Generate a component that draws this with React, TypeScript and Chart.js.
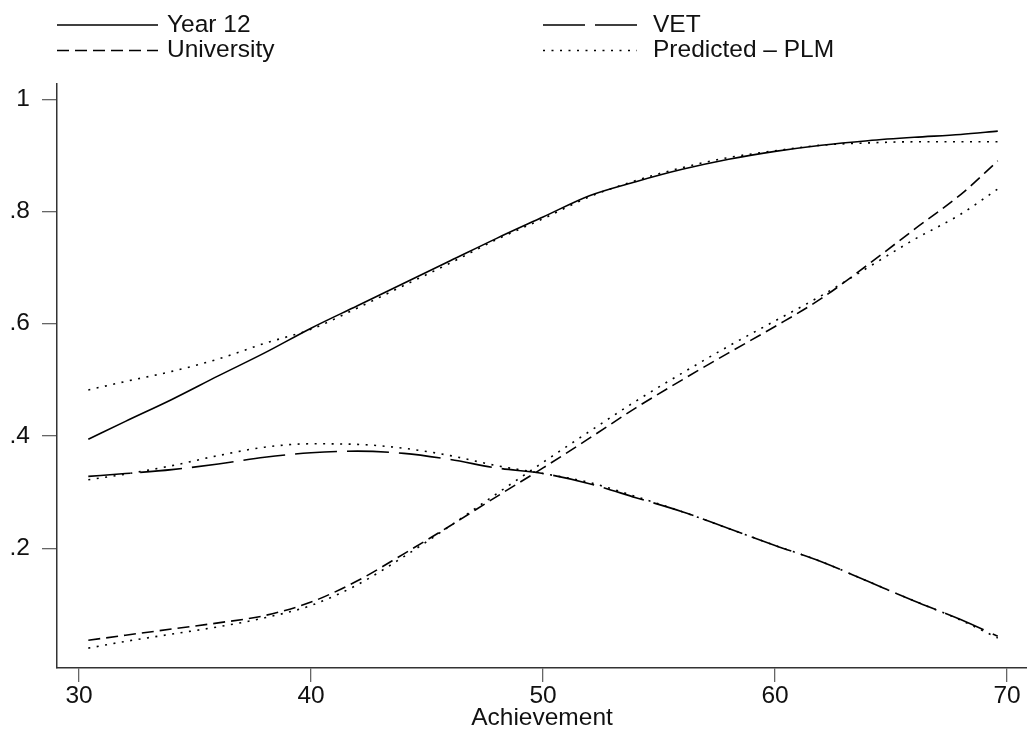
import { useEffect, useRef } from "react";
import { Chart, registerables } from "chart.js";

Chart.register(...registerables);

// Achievement score (x) shared by all series
const ACHIEVEMENT = [30.4, 32, 34, 36, 38, 40, 42, 44, 46, 48, 50, 52, 54, 56, 58, 60, 62, 64, 66, 68, 69.6];

const YEAR12 = [0.394, 0.426, 0.465, 0.507, 0.548, 0.592, 0.632, 0.672, 0.712, 0.752, 0.79, 0.828, 0.853, 0.875, 0.893, 0.907, 0.918, 0.926, 0.932, 0.937, 0.943];
const YEAR12_PRED = [0.482, 0.497, 0.515, 0.537, 0.565, 0.59, 0.628, 0.668, 0.708, 0.75, 0.787, 0.826, 0.855, 0.878, 0.896, 0.908, 0.918, 0.922, 0.924, 0.924, 0.924];

const VET = [0.328, 0.333, 0.34, 0.35, 0.362, 0.37, 0.373, 0.369, 0.358, 0.343, 0.333, 0.315, 0.29, 0.265, 0.235, 0.205, 0.176, 0.141, 0.106, 0.073, 0.043];
const VET_PRED = [0.322, 0.332, 0.347, 0.365, 0.38, 0.386, 0.385, 0.378, 0.365, 0.347, 0.333, 0.317, 0.292, 0.265, 0.235, 0.205, 0.176, 0.141, 0.106, 0.072, 0.04];

const UNIVERSITY = [0.036, 0.045, 0.056, 0.067, 0.08, 0.104, 0.142, 0.19, 0.24, 0.292, 0.343, 0.396, 0.45, 0.5, 0.548, 0.595, 0.645, 0.705, 0.768, 0.83, 0.89];
const UNIVERSITY_PRED = [0.022, 0.034, 0.047, 0.06, 0.076, 0.098, 0.135, 0.185, 0.24, 0.297, 0.353, 0.408, 0.462, 0.512, 0.56, 0.605, 0.65, 0.7, 0.75, 0.795, 0.84];

const X_TICKS = [30, 40, 50, 60, 70];
const Y_TICKS = [0.2, 0.4, 0.6, 0.8, 1];
const Y_TICK_LABELS = [".2", ".4", ".6", ".8", "1"];
const X_TITLE = "Achievement";

const LEGEND_LABELS = ["Year 12", "VET", "University", "Predicted \u2013 PLM"];

const FONT = "'Liberation Sans', Arial, Helvetica, sans-serif";
const FONT_SIZE = 24.5;

const DASH_SOLID: number[] = [];
const DASH_LONG = [42, 10];
const DASH_SHORT = [12, 6];
const DASH_DOT = [2, 6.5];

const toPoints = (ys: number[]) => ACHIEVEMENT.map((x, i) => ({ x, y: ys[i] }));

const legendPlugin = {
  id: "stataLegend",
  afterDraw(chart: any) {
    const ctx = chart.ctx as CanvasRenderingContext2D;
    const items = [
      { label: LEGEND_LABELS[0], dash: DASH_SOLID, col: 0, row: 0 },
      { label: LEGEND_LABELS[1], dash: DASH_LONG, col: 1, row: 0 },
      { label: LEGEND_LABELS[2], dash: DASH_SHORT, col: 0, row: 1 },
      { label: LEGEND_LABELS[3], dash: DASH_DOT, col: 1, row: 1 },
    ];
    const lineStart = [57, 543];
    const lineEnd = [158, 637];
    const textX = [167, 653];
    const lineY = [25, 50.5];
    const baseY = [32, 56.5];
    ctx.save();
    ctx.font = `${FONT_SIZE}px ${FONT}`;
    ctx.textBaseline = "alphabetic";
    ctx.textAlign = "left";
    for (const it of items) {
      ctx.strokeStyle = "#000";
      ctx.lineWidth = 1.6;
      ctx.setLineDash(it.dash);
      ctx.beginPath();
      ctx.moveTo(lineStart[it.col], lineY[it.row]);
      ctx.lineTo(lineEnd[it.col], lineY[it.row]);
      ctx.stroke();
      ctx.setLineDash([]);
      ctx.fillStyle = "#111";
      ctx.fillText(it.label, textX[it.col], baseY[it.row]);
    }
    ctx.restore();
  },
};

export default function App() {
  const canvasRef = useRef<HTMLCanvasElement | null>(null);

  useEffect(() => {
    const canvas = canvasRef.current;
    if (!canvas) return;
    const lineDs = (label: string, ys: number[], dash: number[]) => ({
      label,
      data: toPoints(ys),
      borderColor: "#000",
      backgroundColor: "#000",
      borderWidth: 1.6,
      borderDash: dash,
      pointRadius: 0,
      fill: false,
      cubicInterpolationMode: "monotone" as const,
    });
    const chart = new Chart(canvas, {
      type: "line",
      data: {
        datasets: [
          lineDs(LEGEND_LABELS[0], YEAR12, DASH_SOLID),
          lineDs(LEGEND_LABELS[1], VET, DASH_LONG),
          lineDs(LEGEND_LABELS[2], UNIVERSITY, DASH_SHORT),
          lineDs(LEGEND_LABELS[3], YEAR12_PRED, DASH_DOT),
          lineDs(LEGEND_LABELS[3], VET_PRED, DASH_DOT),
          lineDs(LEGEND_LABELS[3], UNIVERSITY_PRED, DASH_DOT),
        ],
      },
      options: {
        animation: false,
        responsive: false,
        devicePixelRatio: 1,
        layout: { padding: { top: 84, right: 0, left: 0, bottom: 0 } },
        plugins: {
          legend: { display: false },
          tooltip: { enabled: false },
        },
        scales: {
          x: {
            type: "linear",
            min: 29.05,
            max: 70.86,
            afterBuildTicks: (s: any) => {
              s.ticks = X_TICKS.map((v) => ({ value: v }));
            },
            afterFit: (s: any) => {
              s.height = 67;
            },
            grid: {
              drawOnChartArea: false,
              drawTicks: true,
              tickLength: 14,
              color: "#666",
              lineWidth: 1.3,
            },
            border: { display: true, color: "#333", width: 1.5 },
            ticks: {
              font: { family: FONT, size: FONT_SIZE },
              color: "#111",
              padding: 0,
              maxRotation: 0,
              autoSkip: false,
              callback: (v: any) => String(v),
            },
            title: {
              display: true,
              text: X_TITLE,
              color: "#111",
              font: { family: FONT, size: FONT_SIZE, lineHeight: 1.2 },
              padding: { top: 0, bottom: 2 },
            },
          },
          y: {
            type: "linear",
            min: -0.0134,
            max: 1.027,
            afterBuildTicks: (s: any) => {
              s.ticks = Y_TICKS.map((v) => ({ value: v }));
            },
            afterFit: (s: any) => {
              s.width = 57;
            },
            grid: {
              drawOnChartArea: false,
              drawTicks: true,
              tickLength: 15,
              color: "#666",
              lineWidth: 1.3,
            },
            border: { display: true, color: "#333", width: 1.5 },
            ticks: {
              font: { family: FONT, size: FONT_SIZE },
              color: "#111",
              padding: 12,
              autoSkip: false,
              callback: (v: any) => {
                const i = Y_TICKS.findIndex((t) => Math.abs(t - Number(v)) < 1e-6);
                return i >= 0 ? Y_TICK_LABELS[i] : "";
              },
            },
          },
        },
      },
      plugins: [legendPlugin],
    });
    return () => chart.destroy();
  }, []);

  return (
    <div style={{ position: "absolute", left: 0, top: 0, width: 1027, height: 735, background: "#fff" }}>
      <canvas ref={canvasRef} width={1027} height={735} style={{ width: 1027, height: 735, display: "block" }} />
    </div>
  );
}
